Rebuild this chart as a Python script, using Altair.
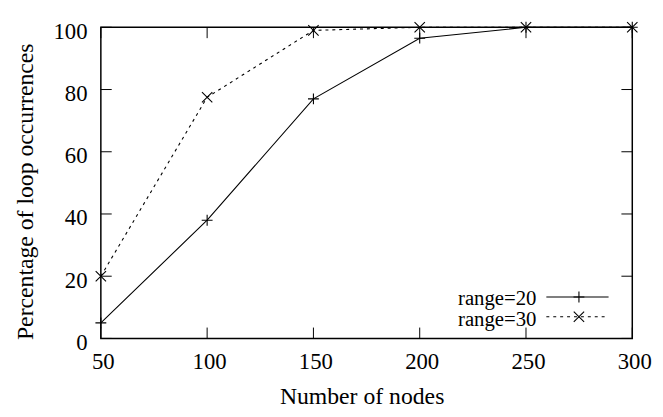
import altair as alt
import pandas as pd

nodes = [50, 100, 150, 200, 250, 300]
range20 = [5, 38, 77, 96.5, 100, 100]
range30 = [20, 77.5, 99, 100, 100, 100]
series_names = ["range=20", "range=30"]
x_ticks = [50, 100, 150, 200, 250, 300]
y_ticks = [0, 20, 40, 60, 80, 100]

W, H = 538, 315
FONT = "Liberation Serif"
PLUS = "M-1,0L1,0M0,-1L0,1"
CROSS = "M-1,-1L1,1M-1,1L1,-1"

df20 = pd.DataFrame({"nodes": nodes, "pct": range20, "series": series_names[0]})
df30 = pd.DataFrame({"nodes": nodes, "pct": range30, "series": series_names[1]})
dfx = pd.DataFrame({"v": x_ticks})
dfy = pd.DataFrame({"v": y_ticks})

xscale = alt.Scale(domain=[50, 300], nice=False, zero=False)
yscale = alt.Scale(domain=[0, 100], nice=False)

xaxis = alt.Axis(values=x_ticks, format="d", grid=False, ticks=False, tickSize=0, domain=False,
                 labelFont=FONT, labelFontSize=23, labelColor="black", labelPadding=30,
                 labelBaseline="alphabetic", labelOffset=2, labelFlush=False, labelOverlap=False,
                 labelBound=False,
                 title="Number of nodes", titleFont=FONT, titleFontSize=24, titleFontWeight="normal",
                 titleColor="black", titleX=264, titleY=66, titleBaseline="alphabetic", titleAlign="center")
yaxis = alt.Axis(values=y_ticks, format="d", grid=False, ticks=False, tickSize=0, domain=False,
                 labelFont=FONT, labelFontSize=23, labelColor="black", labelPadding=14,
                 labelBaseline="alphabetic", labelOffset=11, labelFlush=False, labelOverlap=False,
                 labelBound=False,
                 title="Percentage of loop occurrences", titleFont=FONT, titleFontSize=24,
                 titleFontWeight="normal", titleColor="black", titleX=-69, titleY=166,
                 titleBaseline="alphabetic", titleAlign="center", titleAngle=270)

base20 = alt.Chart(df20).encode(x=alt.X("nodes:Q", scale=xscale, axis=xaxis),
                                y=alt.Y("pct:Q", scale=yscale, axis=yaxis))
base30 = alt.Chart(df30).encode(x=alt.X("nodes:Q", scale=xscale),
                                y=alt.Y("pct:Q", scale=yscale))

line20 = base20.mark_line(color="black", strokeWidth=1.1)
pts20 = base20.mark_point(shape=PLUS, size=121, filled=False, color="black", strokeWidth=1.1, opacity=1)
line30 = base30.mark_line(color="black", strokeWidth=1.1, strokeDash=[3, 4])
pts30 = base30.mark_point(shape=CROSS, size=110, filled=False, color="black", strokeWidth=1.1, opacity=1)

TL = 11
xt = alt.Chart(dfx).encode(x=alt.X("v:Q", scale=xscale))
ticks_bottom = xt.mark_rule(color="black", strokeWidth=1).encode(y=alt.value(H), y2=alt.value(H - TL))
ticks_top = xt.mark_rule(color="black", strokeWidth=1).encode(y=alt.value(0), y2=alt.value(TL))
yt = alt.Chart(dfy).encode(y=alt.Y("v:Q", scale=yscale))
ticks_left = yt.mark_rule(color="black", strokeWidth=1).encode(x=alt.value(0), x2=alt.value(TL))
ticks_right = yt.mark_rule(color="black", strokeWidth=1).encode(x=alt.value(W), x2=alt.value(W - TL))

# legend (gnuplot style: label then sample)
leg_txt_x = 441
leg_l1, leg_l2, leg_mid = 451, 514, 484
row1_base, row2_base = 281, 302
row1_line, row2_line = 273, 293

def leg_text(name, ybase):
    return alt.Chart(pd.DataFrame({"t": [name]})).mark_text(
        font=FONT, fontSize=21, align="right", baseline="alphabetic", color="black"
    ).encode(text="t:N", x=alt.value(leg_txt_x), y=alt.value(ybase))

leg1_text = leg_text(series_names[0], row1_base)
leg2_text = leg_text(series_names[1], row2_base)
leg1_line = alt.Chart(pd.DataFrame({"t": [series_names[0]]})).mark_rule(color="black", strokeWidth=1.1).encode(
    x=alt.value(leg_l1), x2=alt.value(leg_l2), y=alt.value(row1_line))
leg2_line = alt.Chart(pd.DataFrame({"t": [series_names[1]]})).mark_rule(
    color="black", strokeWidth=1.1, strokeDash=[3, 4]).encode(
    x=alt.value(leg_l1), x2=alt.value(leg_l2), y=alt.value(row2_line))
leg1_pt = alt.Chart(pd.DataFrame({"t": [series_names[0]]})).mark_point(
    shape=PLUS, size=121, filled=False, color="black", strokeWidth=1.1, opacity=1).encode(
    x=alt.value(leg_mid), y=alt.value(row1_line))
leg2_pt = alt.Chart(pd.DataFrame({"t": [series_names[1]]})).mark_point(
    shape=CROSS, size=110, filled=False, color="black", strokeWidth=1.1, opacity=1).encode(
    x=alt.value(leg_mid), y=alt.value(row2_line))

chart = alt.layer(
    line20, line30, pts20, pts30,
    ticks_bottom, ticks_top, ticks_left, ticks_right,
    leg1_text, leg2_text, leg1_line, leg2_line, leg1_pt, leg2_pt,
).properties(
    width=W, height=H,
    autosize=alt.AutoSizeParams(type="none"),
    padding={"left": 94, "top": 17, "right": 23, "bottom": 77},
    background="white",
).configure_view(stroke="black", strokeWidth=1.5)

chart.save("out.html", embed_options={"renderer": "svg", "actions": False})
